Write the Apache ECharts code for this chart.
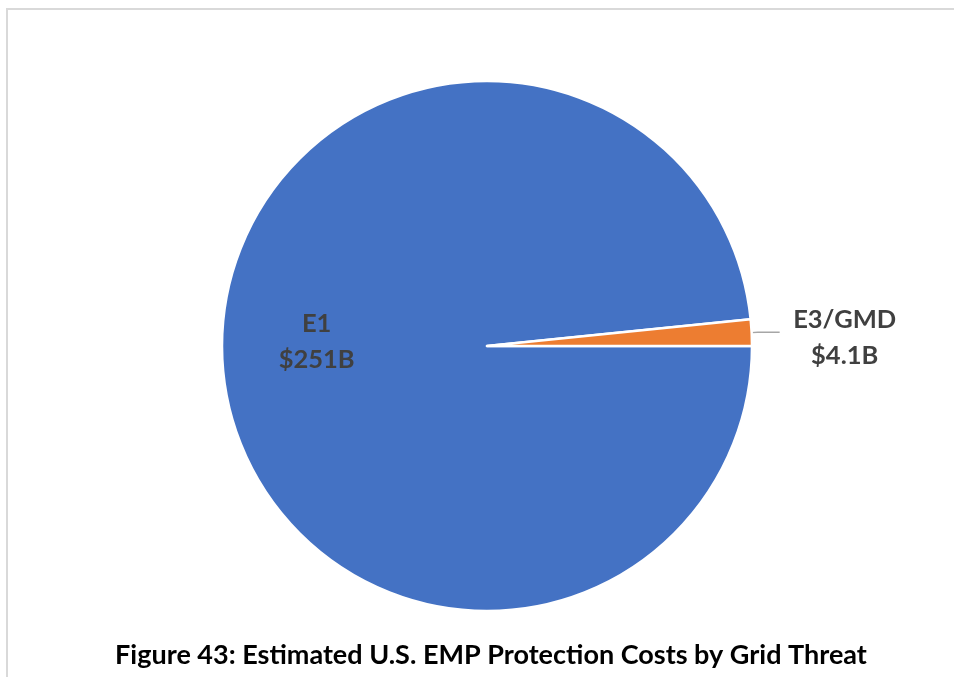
<!DOCTYPE html>
<html>
<head>
    <meta charset="utf-8">
    <title>Figure 43</title>
    <script src="https://cdn.jsdelivr.net/npm/echarts@6/dist/echarts.min.js"></script>
    <style type="text/css">
        html, body {
            margin: 0;
            padding: 0;
            background: #ffffff;
        }

        #chart {
            width: 954px;
            height: 677px;
        }
    </style>
</head>
<body>
<div id="chart"></div>
<script>
    // data
    var threats = ['E1', 'E3/GMD'];
    var costs = [251, 4.1];          // billions of dollars
    var costLabels = ['$251B', '$4.1B'];
    var sliceColors = ['#4472C4', '#ED7D31'];
    var captionText = 'Figure 43: Estimated U.S. EMP Protection Costs by Grid Threat';

    var chart = echarts.init(document.getElementById('chart'));

    var pieData = threats.map(function (name, i) {
        return {
            name: name,
            value: costs[i],
            itemStyle: {color: sliceColors[i]}
        };
    });
    // big slice keeps its label inside
    pieData[0].label = {
        position: 'inside',
        formatter: '{a|{b}}\n{a|' + costLabels[0] + '}'
    };
    pieData[0].labelLine = {show: false};
    pieData[1].label = {
        position: 'outside',
        formatter: '{a|{b}}\n{a|' + costLabels[1] + '}'
    };

    var option = {
        backgroundColor: '#ffffff',
        animation: false,
        title: {
            text: captionText,
            left: 486,
            textAlign: 'center',
            top: 637,
            textStyle: {
                fontFamily: 'Lato',
                fontWeight: 'bold',
                fontSize: 27,
                color: '#000000'
            }
        },
        graphic: [{
            type: 'rect',         // light frame, open to the right and bottom
            shape: {x: 7, y: 9, width: 1200, height: 1200},
            style: {fill: 'none', stroke: '#d9d9d9', lineWidth: 2},
            silent: true
        }],
        series: [{
            type: 'pie',
            center: [487, 346],
            radius: [0, 265],
            startAngle: 0,
            clockwise: true,
            avoidLabelOverlap: false,
            itemStyle: {
                borderColor: '#ffffff',
                borderWidth: 2.5
            },
            label: {
                color: '#404040',
                rich: {
                    a: {
                        fontFamily: 'Lato',
                        fontWeight: 'bold',
                        fontSize: 25.5,
                        color: '#404040',
                        width: 120,
                        align: 'center',
                        lineHeight: 36
                    }
                }
            },
            labelLine: {
                length: 6,
                length2: 22,
                lineStyle: {color: '#a6a6a6', width: 1.5}
            },
            labelLayout: function (params) {
                if (params.dataIndex === 0) {
                    return {dx: -35, dy: -11};
                }
                return {dx: 0, dy: 5};
            },
            data: pieData
        }]
    };

    chart.setOption(option);
</script>
</body>
</html>
